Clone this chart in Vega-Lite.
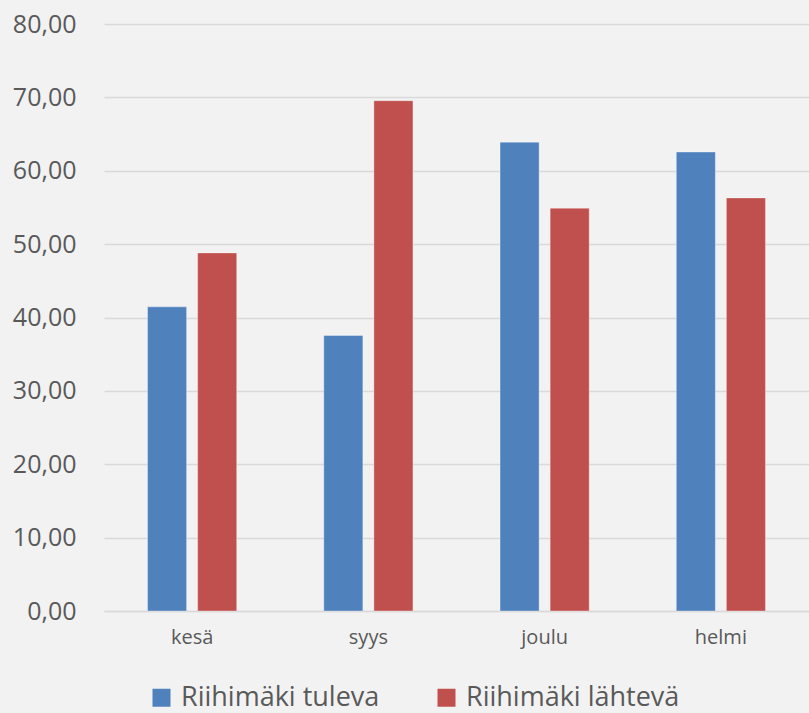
{
  "$schema": "https://vega.github.io/schema/vega-lite/v6.json",
  "width": 705,
  "height": 587,
  "autosize": "none",
  "padding": {"left": 104, "top": 24, "right": 0, "bottom": 102},
  "background": "#F2F2F2",
  "config": {
    "view": {"stroke": null},
    "font": "Open Sans"
  },
  "data": {
    "values": [
      {"kausi": "kesä", "sarja": "Riihimäki tuleva", "arvo": 41.45},
      {"kausi": "kesä", "sarja": "Riihimäki lähtevä", "arvo": 48.8},
      {"kausi": "syys", "sarja": "Riihimäki tuleva", "arvo": 37.55},
      {"kausi": "syys", "sarja": "Riihimäki lähtevä", "arvo": 69.55},
      {"kausi": "joulu", "sarja": "Riihimäki tuleva", "arvo": 63.9},
      {"kausi": "joulu", "sarja": "Riihimäki lähtevä", "arvo": 54.9},
      {"kausi": "helmi", "sarja": "Riihimäki tuleva", "arvo": 62.55},
      {"kausi": "helmi", "sarja": "Riihimäki lähtevä", "arvo": 56.3}
    ]
  },
  "mark": {"type": "bar", "stroke": "#FFFFFF", "strokeOpacity": 0.35, "strokeWidth": 1},
  "encoding": {
    "x": {
      "field": "kausi",
      "type": "nominal",
      "sort": ["kesä", "syys", "joulu", "helmi"],
      "scale": {"paddingInner": 0.494, "paddingOuter": 0.247},
      "axis": {
        "title": null,
        "labelAngle": 0,
        "labelFontSize": 20,
        "labelColor": "#595959",
        "labelPadding": 16,
        "ticks": false,
        "domain": true,
        "domainColor": "#D9D9D9",
        "domainWidth": 1.5
      }
    },
    "xOffset": {
      "field": "sarja",
      "type": "nominal",
      "sort": ["Riihimäki tuleva", "Riihimäki lähtevä"],
      "scale": {"paddingInner": 0.22, "paddingOuter": 0}
    },
    "y": {
      "field": "arvo",
      "type": "quantitative",
      "scale": {"domain": [0, 80]},
      "axis": {
        "title": null,
        "values": [0, 10, 20, 30, 40, 50, 60, 70, 80],
        "labelExpr": "replace(format(datum.value, '.2f'), '.', ',')",
        "labelFontSize": 25,
        "labelColor": "#595959",
        "labelPadding": 28,
        "ticks": false,
        "domain": false,
        "gridColor": "#D9D9D9",
        "gridWidth": 1.5
      }
    },
    "color": {
      "field": "sarja",
      "type": "nominal",
      "sort": ["Riihimäki tuleva", "Riihimäki lähtevä"],
      "scale": {"range": ["#4F81BD", "#C0504D"]},
      "legend": {
        "title": null,
        "orient": "none",
        "direction": "horizontal",
        "legendX": 44,
        "legendY": 660,
        "symbolType": "square",
        "symbolSize": 324,
        "symbolStrokeWidth": 0,
        "labelFontSize": 27,
        "labelColor": "#595959",
        "labelOffset": 6,
        "columnPadding": 53,
        "labelLimit": 400
      }
    }
  }
}
